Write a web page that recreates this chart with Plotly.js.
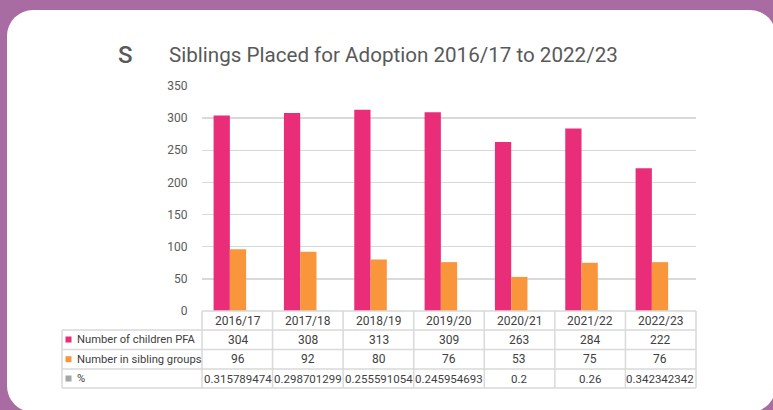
<!DOCTYPE html>
<html>
<head>
<meta charset="utf-8">
<script src="https://cdn.plot.ly/plotly-3.0.1.min.js"></script>
<style>
  html, body { margin:0; padding:0; width:773px; height:410px; overflow:hidden; background:#A86CA2; }
  #card { position:absolute; left:7px; top:10px; width:769px; height:402px; background:#ffffff; border-radius:26px; }
  #chart { position:absolute; left:0; top:0; width:773px; height:410px; }
</style>
</head>
<body>
<div id="card"></div>
<div id="chart"></div>
<script>
// ---- data ----
const categories = ["2016/17","2017/18","2018/19","2019/20","2020/21","2021/22","2022/23"];
const childrenPFA = [304, 308, 313, 309, 263, 284, 222];
const siblingGroups = [96, 92, 80, 76, 53, 75, 76];
const percent = [0.315789474, 0.298701299, 0.255591054, 0.245954693, 0.2, 0.26, 0.342342342];
const percentLabels = ["0.315789474","0.298701299","0.255591054","0.245954693","0.2","0.26","0.342342342"];
const seriesNames = ["Number of children PFA", "Number in sibling groups", "%"];
const yTicks = [0, 50, 100, 150, 200, 250, 300, 350];
const titleText = "Siblings Placed for Adoption 2016/17 to 2022/23";

// ---- layout constants ----
const W = 773, H = 410;
const L = 202, R = 696, T = 86, B = 311;
const colors = ["#E92D78", "#F9963B", "#A5A5A5"];
const gridCol = "#D9D9D9";
const px2x = px => (px - L) / (R - L);
const py2y = py => (B - py) / (B - T);

const traces = [
  {type:"bar", name:seriesNames[0], x:categories, y:childrenPFA, marker:{color:colors[0]}, hoverinfo:"none"},
  {type:"bar", name:seriesNames[1], x:categories, y:siblingGroups, marker:{color:colors[1]}, hoverinfo:"none"},
  {type:"bar", name:seriesNames[2], x:categories, y:percent, marker:{color:colors[2]}, hoverinfo:"none"}
];

const shapes = [];
const annotations = [];
const lineStyle = {color:gridCol, width:1.5};
// table rows
const rowLines = [330, 349.5, 369, 388];
const rowCenters = [320.5, 339.5, 359.2, 378.5];
const tableLeft = 62;
shapes.push({type:"line", xref:"paper", yref:"paper", x0:0, x1:1, y0:py2y(B), y1:py2y(B), line:lineStyle});
rowLines.forEach(py => shapes.push({type:"line", xref:"paper", yref:"paper", x0:px2x(tableLeft), x1:1, y0:py2y(py), y1:py2y(py), line:lineStyle}));
for (let k = 0; k <= categories.length; k++) {
  shapes.push({type:"line", xref:"paper", yref:"paper", x0:k/categories.length, x1:k/categories.length, y0:py2y(B), y1:py2y(388), line:lineStyle});
}
shapes.push({type:"line", xref:"paper", yref:"paper", x0:px2x(tableLeft), x1:px2x(tableLeft), y0:py2y(330), y1:py2y(388), line:lineStyle});

const tFont = {family:"Roboto, 'DejaVu Sans', sans-serif", size:11.5, color:"#404040"};
const vFont = {family:"Roboto, 'DejaVu Sans', sans-serif", size:12, color:"#404040"};
const lFont = {family:"Roboto, 'DejaVu Sans', sans-serif", size:11.2, color:"#404040"};
categories.forEach(c => annotations.push({xref:"x", yref:"paper", x:c, y:py2y(rowCenters[0]), text:c, showarrow:false, xanchor:"center", yanchor:"middle", font:vFont}));
const rows = [childrenPFA.map(String), siblingGroups.map(String), percentLabels];
rows.forEach((vals, r) => {
  vals.forEach((v, i) => annotations.push({xref:"x", yref:"paper", x:categories[i], y:py2y(rowCenters[r+1]), text:v, showarrow:false, xanchor:"center", yanchor:"middle", font:(r===2?tFont:vFont)}));
  annotations.push({xref:"paper", yref:"paper", x:px2x(75), y:py2y(rowCenters[r+1]), text:seriesNames[r], showarrow:false, xanchor:"left", yanchor:"middle", font:lFont});
  const cy = rowCenters[r+1];
  shapes.push({type:"rect", xref:"paper", yref:"paper", x0:px2x(65.5), x1:px2x(71.5), y0:py2y(cy+3), y1:py2y(cy-3), fillcolor:colors[r], line:{width:0}});
});

// the "S"
annotations.push({xref:"paper", yref:"paper", x:px2x(116), y:py2y(54.5), text:"S", showarrow:false, xanchor:"left", yanchor:"middle", font:{family:"Roboto, sans-serif", size:24, color:"#595959", weight:500}});

const layout = {
  width:W, height:H,
  margin:{l:L, r:W-R, t:T, b:H-B, pad:0},
  paper_bgcolor:"rgba(0,0,0,0)",
  plot_bgcolor:"rgba(0,0,0,0)",
  showlegend:false,
  barmode:"group",
  bargap:0.306,
  bargroupgap:0,
  title:{text:titleText, x:169/W, xanchor:"left", xref:"container", yref:"container", y:1-55/H, yanchor:"middle",
         font:{family:"Roboto, sans-serif", size:20.6, color:"#595959"}},
  xaxis:{type:"category", showticklabels:false, showgrid:false, zeroline:false, showline:false, ticks:""},
  yaxis:{range:[0,350], tickvals:yTicks, ticktext:yTicks.map(String), showgrid:true, gridcolor:gridCol, gridwidth:1.5,
         zeroline:false, showline:false, ticks:"outside", ticklen:11, tickcolor:"rgba(0,0,0,0)",
         tickfont:{family:"Roboto, sans-serif", size:12, color:"#595959"}},
  shapes:shapes,
  annotations:annotations,
  font:{family:"Roboto, sans-serif"}
};

Plotly.newPlot("chart", traces, layout, {displayModeBar:false, staticPlot:true});
</script>
</body>
</html>
